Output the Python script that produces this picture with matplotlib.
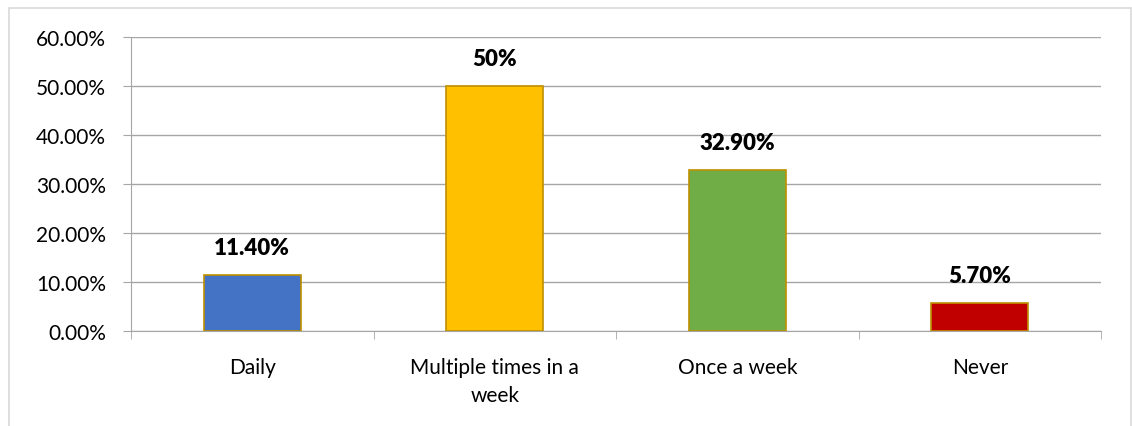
import matplotlib.pyplot as plt
from matplotlib.patches import Rectangle
from matplotlib.ticker import FuncFormatter, FixedLocator

categories = ['Daily', 'Multiple times in a\nweek', 'Once a week', 'Never']
values = [11.4, 50.0, 32.9, 5.7]
labels = ['11.40%', '50%', '32.90%', '5.70%']
colors = ['#4472C4', '#FFC000', '#70AD47', '#C00000']

plt.rcParams['font.family'] = ['Lato', 'DejaVu Sans']

fig = plt.figure(figsize=(11.32, 4.27), dpi=100)
ax = fig.add_axes([131 / 1132, 1 - 332 / 427, 970 / 1132, 294 / 427])

# outer chart border
fig.patches.append(Rectangle((9 / 1132, -0.1), 1122 / 1132, 1.1 - 9 / 427,
                             transform=fig.transFigure, fill=False,
                             edgecolor='#D9D9D9', linewidth=1.2))

x = range(len(categories))
ax.bar(x, values, width=0.4, color=colors, edgecolor='#BF9000', linewidth=1.2, zorder=3)

for i, (v, lab) in enumerate(zip(values, labels)):
    ax.annotate(lab, (i, v), xytext=(0, 20), textcoords='offset points',
                ha='center', va='center', fontsize=16, fontweight='heavy')

ax.set_xlim(-0.5, len(categories) - 0.5)
ax.set_ylim(0, 60)
ax.set_yticks(range(0, 61, 10))
ax.yaxis.set_major_formatter(FuncFormatter(lambda v, p: '%.2f%%' % v))
ax.grid(axis='y', color='#A6A6A6', linewidth=1, zorder=0)

ax.set_xticks(list(x))
ax.set_xticklabels(categories, fontsize=15, linespacing=1.5)
ax.xaxis.set_minor_locator(FixedLocator([i - 0.5 for i in range(len(categories) + 1)]))
ax.tick_params(axis='x', which='major', length=0, pad=19)
ax.tick_params(axis='x', which='minor', length=6, color='#A6A6A6')
ax.tick_params(axis='y', length=6, color='#A6A6A6', labelsize=15, pad=12)

for s in ['top', 'right']:
    ax.spines[s].set_visible(False)
ax.spines['left'].set_color('#A6A6A6')
ax.spines['bottom'].set_color('#A6A6A6')

fig.savefig('out.png', dpi=100)
